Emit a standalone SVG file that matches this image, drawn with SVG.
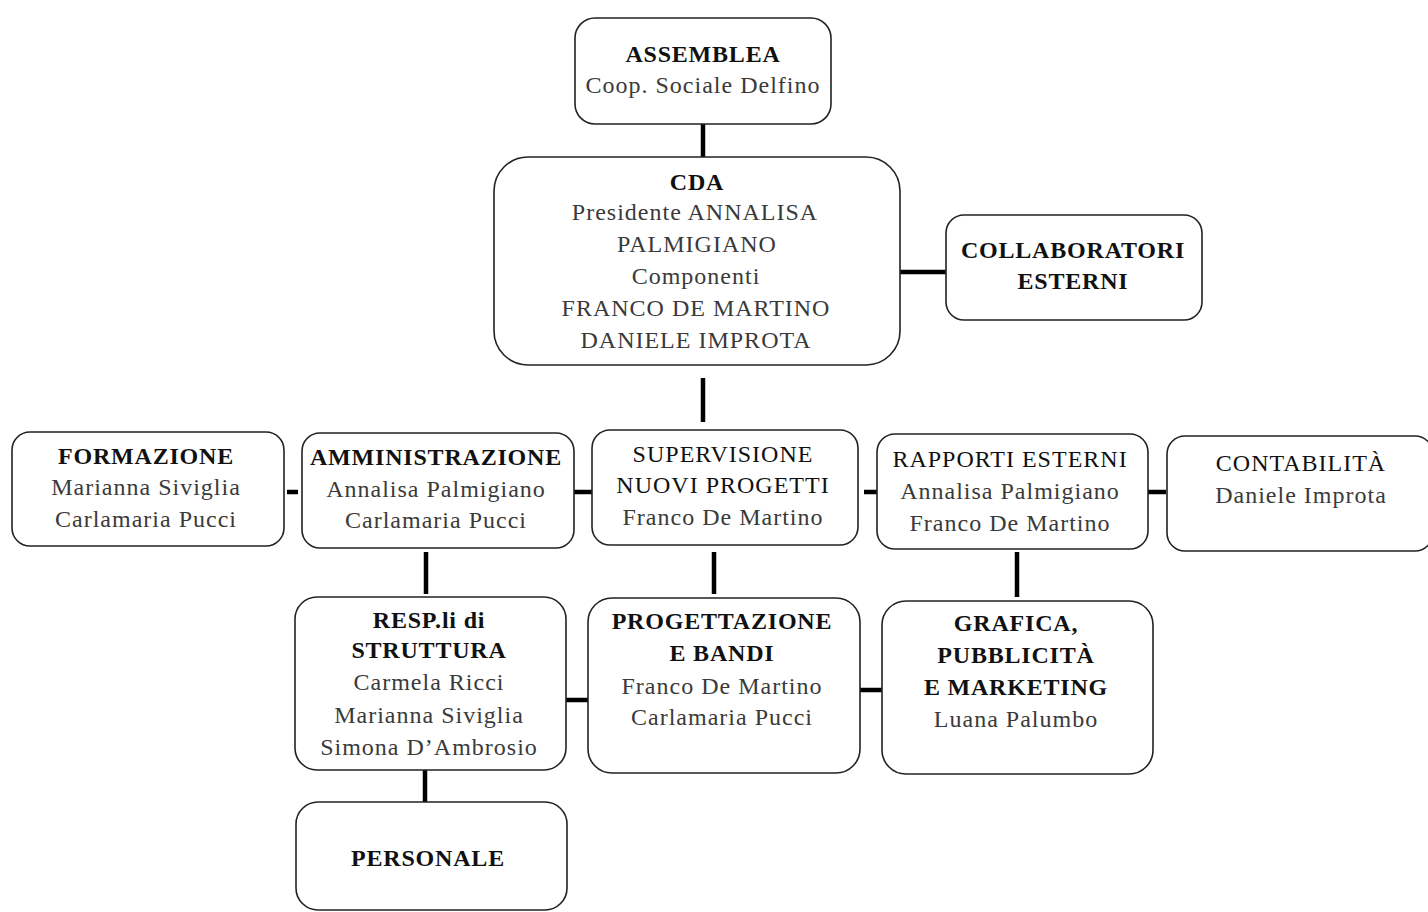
<svg xmlns="http://www.w3.org/2000/svg" width="1428" height="912" viewBox="0 0 1428 912">
<style>
.box{fill:#fff;stroke:#222;stroke-width:1.6}
.t{font-family:"Liberation Serif",serif;font-size:24px;letter-spacing:1px;text-anchor:middle;fill:#3a3a3a}
.h{font-weight:bold;fill:#111;letter-spacing:0.8px}
.hr{fill:#111}
.c{stroke:#000;stroke-width:4.5;fill:none}
</style>
<rect width="1428" height="912" fill="#fff"/>
<g id="connectors">
<line class="c" x1="703" y1="124" x2="703" y2="157"/>
<line class="c" x1="900" y1="272" x2="946" y2="272"/>
<line class="c" x1="703" y1="378" x2="703" y2="422"/>
<line class="c" x1="287" y1="492" x2="298" y2="492"/>
<line class="c" x1="574" y1="492" x2="598" y2="492"/>
<line class="c" x1="864" y1="492" x2="877" y2="492"/>
<line class="c" x1="1145" y1="492" x2="1166" y2="492"/>
<line class="c" x1="426" y1="552" x2="426" y2="594"/>
<line class="c" x1="714" y1="552" x2="714" y2="594"/>
<line class="c" x1="1017" y1="552" x2="1017" y2="597"/>
<line class="c" x1="566" y1="700" x2="588" y2="700"/>
<line class="c" x1="855" y1="690" x2="888" y2="690"/>
<line class="c" x1="425" y1="770" x2="425" y2="803"/>
</g>
<g id="assemblea">
<rect class="box" x="575" y="18" width="256" height="106" rx="20"/>
<text class="t h" x="703" y="62">ASSEMBLEA</text>
<text class="t" x="703" y="93">Coop. Sociale Delfino</text>
</g>
<g id="cda">
<rect class="box" x="494" y="157" width="406" height="208" rx="34"/>
<text class="t h" x="697" y="190">CDA</text>
<text class="t" x="695" y="220">Presidente ANNALISA</text>
<text class="t" x="697" y="252">PALMIGIANO</text>
<text class="t" x="696" y="284">Componenti</text>
<text class="t" x="696" y="316">FRANCO DE MARTINO</text>
<text class="t" x="696" y="348">DANIELE IMPROTA</text>
</g>
<g id="collaboratori">
<rect class="box" x="946" y="215" width="256" height="105" rx="18"/>
<text class="t h" x="1073" y="258">COLLABORATORI</text>
<text class="t h" x="1073" y="289">ESTERNI</text>
</g>
<g id="formazione">
<rect class="box" x="12" y="432" width="272" height="114" rx="18"/>
<text class="t h" x="146" y="464">FORMAZIONE</text>
<text class="t" x="146" y="495">Marianna Siviglia</text>
<text class="t" x="146" y="527">Carlamaria Pucci</text>
</g>
<g id="amministrazione">
<rect class="box" x="302" y="433" width="272" height="115" rx="18"/>
<text class="t h" x="436" y="465">AMMINISTRAZIONE</text>
<text class="t" x="436" y="497">Annalisa Palmigiano</text>
<text class="t" x="436" y="528">Carlamaria Pucci</text>
</g>
<g id="supervisione">
<rect class="box" x="592" y="430" width="266" height="115" rx="18"/>
<text class="t hr" x="723" y="462">SUPERVISIONE</text>
<text class="t hr" x="723" y="493">NUOVI PROGETTI</text>
<text class="t" x="723" y="525">Franco De Martino</text>
</g>
<g id="rapporti">
<rect class="box" x="877" y="434" width="271" height="115" rx="18"/>
<text class="t hr" x="1010" y="467">RAPPORTI ESTERNI</text>
<text class="t" x="1010" y="499">Annalisa Palmigiano</text>
<text class="t" x="1010" y="531">Franco De Martino</text>
</g>
<g id="contabilita">
<rect class="box" x="1167" y="436" width="266" height="115" rx="18"/>
<text class="t hr" x="1301" y="471">CONTABILITÀ</text>
<text class="t" x="1301" y="503">Daniele Improta</text>
</g>
<g id="resp">
<rect class="box" x="295" y="597" width="271" height="173" rx="22"/>
<text class="t h" x="429" y="628">RESP.li di</text>
<text class="t h" x="429" y="658">STRUTTURA</text>
<text class="t" x="429" y="690">Carmela Ricci</text>
<text class="t" x="429" y="723">Marianna Siviglia</text>
<text class="t" x="429" y="755">Simona D’Ambrosio</text>
</g>
<g id="progettazione">
<rect class="box" x="588" y="598" width="272" height="175" rx="24"/>
<text class="t h" x="722" y="629">PROGETTAZIONE</text>
<text class="t h" x="722" y="661">E BANDI</text>
<text class="t" x="722" y="694">Franco De Martino</text>
<text class="t" x="722" y="725">Carlamaria Pucci</text>
</g>
<g id="grafica">
<rect class="box" x="882" y="601" width="271" height="173" rx="24"/>
<text class="t h" x="1016" y="631">GRAFICA,</text>
<text class="t h" x="1016" y="663">PUBBLICITÀ</text>
<text class="t h" x="1016" y="695">E MARKETING</text>
<text class="t" x="1016" y="727">Luana Palumbo</text>
</g>
<g id="personale">
<rect class="box" x="296" y="802" width="271" height="108" rx="22"/>
<text class="t h" x="428" y="866">PERSONALE</text>
</g>
</svg>
